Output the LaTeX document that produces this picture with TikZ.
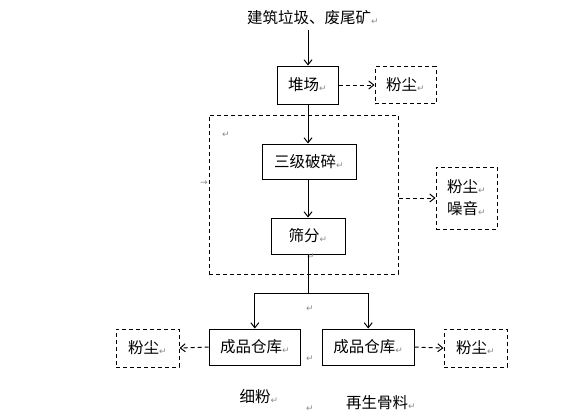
\documentclass[tikz,border=0pt]{standalone}
\usepackage{fontspec}
\setmainfont{Noto Sans CJK SC}
\newfontfamily\markfont{DejaVu Sans}
\usetikzlibrary{arrows.meta}
\definecolor{markgray}{RGB}{140,140,140}
\newcommand\ret{{\markfont\fontsize{9}{9}\selectfont\color{markgray}\raisebox{-1pt}{↵}}}
\newcommand\tabmark{{\markfont\fontsize{9}{9}\selectfont\color{markgray}→}}
\begin{document}
\begin{tikzpicture}[x=1pt,y=-1pt,
  every node/.style={font=\fontsize{15.5}{18}\selectfont, inner sep=0pt},
  sbox/.style={draw, line width=1pt},
  dbox/.style={draw, line width=1pt, dash pattern=on 4pt off 3pt},
  arr/.style={line width=1pt, -{Straight Barb[length=5pt,width=8pt]}},
  darr/.style={arr, dash pattern=on 4pt off 3pt},
  fmark/.style={inner sep=0pt}]
\useasboundingbox (0,0) rectangle (583,418);
\fill[white] (0,0) rectangle (583,418);
% nodes
\node (src) at (313,18) {建筑垃圾、废尾矿\ret};
\coordinate (srcb) at (308,30);
\node[sbox, minimum width=61pt, minimum height=38pt] (dui) at (307.5,85) {堆场\ret};
\node[dbox, minimum width=61pt, minimum height=37pt] (fc1) at (405.5,85) {粉尘\ret};
\node[dbox, minimum width=189pt, minimum height=159pt] (grp) at (303.5,194.5) {};
\node[sbox, minimum width=94pt, minimum height=35pt] (po) at (309,161.5) {三级破碎\ret};
\node[sbox, minimum width=74pt, minimum height=36pt] (sf) at (308,236) {筛分\ret};
\node[dbox, minimum width=61pt, minimum height=62pt, align=center] (fz) at (466.5,198) {粉尘\ret\\[4pt]噪音\ret};
\node[sbox, minimum width=91.5pt, minimum height=36pt] (ckL) at (254.8,347) {成品仓库\ret};
\node[sbox, minimum width=92pt, minimum height=36pt] (ckR) at (368.2,347) {成品仓库\ret};
\node[dbox, minimum width=63pt, minimum height=38pt] (fcL) at (147.5,348) {粉尘\ret};
\node[dbox, minimum width=63pt, minimum height=38pt] (fcR) at (475.5,348) {粉尘\ret};
\node (xf) at (259,397) {细粉\ret};
\node (zs) at (381,403) {再生骨料\ret};
% stray formatting marks
\node[fmark] (m1) at (226,135) {\ret};
\node[fmark] (m2) at (204,183) {\tabmark};
\node[fmark] (m3) at (311,257) {\ret};
\node[fmark] (m4) at (310,309) {\ret};
\node[fmark] (m5) at (310,359) {\ret};
\node[fmark] (m6) at (310,409) {\ret};
% connectors
\coordinate (split) at (308,293);
\draw[arr] (srcb) -- (srcb |- dui.north);
\draw[darr] (dui.east) -- (fc1.west);
\draw[arr] (dui.south -| 308,0) -- (po.north -| 308,0);
\draw[arr] (po.south -| 308,0) -- (sf.north -| 308,0);
\draw[darr] (grp.east |- fz.west) -- (fz.west);
\draw[line width=1pt] (sf.south -| split) -- (split);
\draw[arr] (split) -| (ckL.north);
\draw[arr] (split) -| (ckR.north);
\draw[darr] (ckL.west) -- (fcL.east);
\draw[darr] (ckR.east) -- (fcR.west);
\end{tikzpicture}
\end{document}
